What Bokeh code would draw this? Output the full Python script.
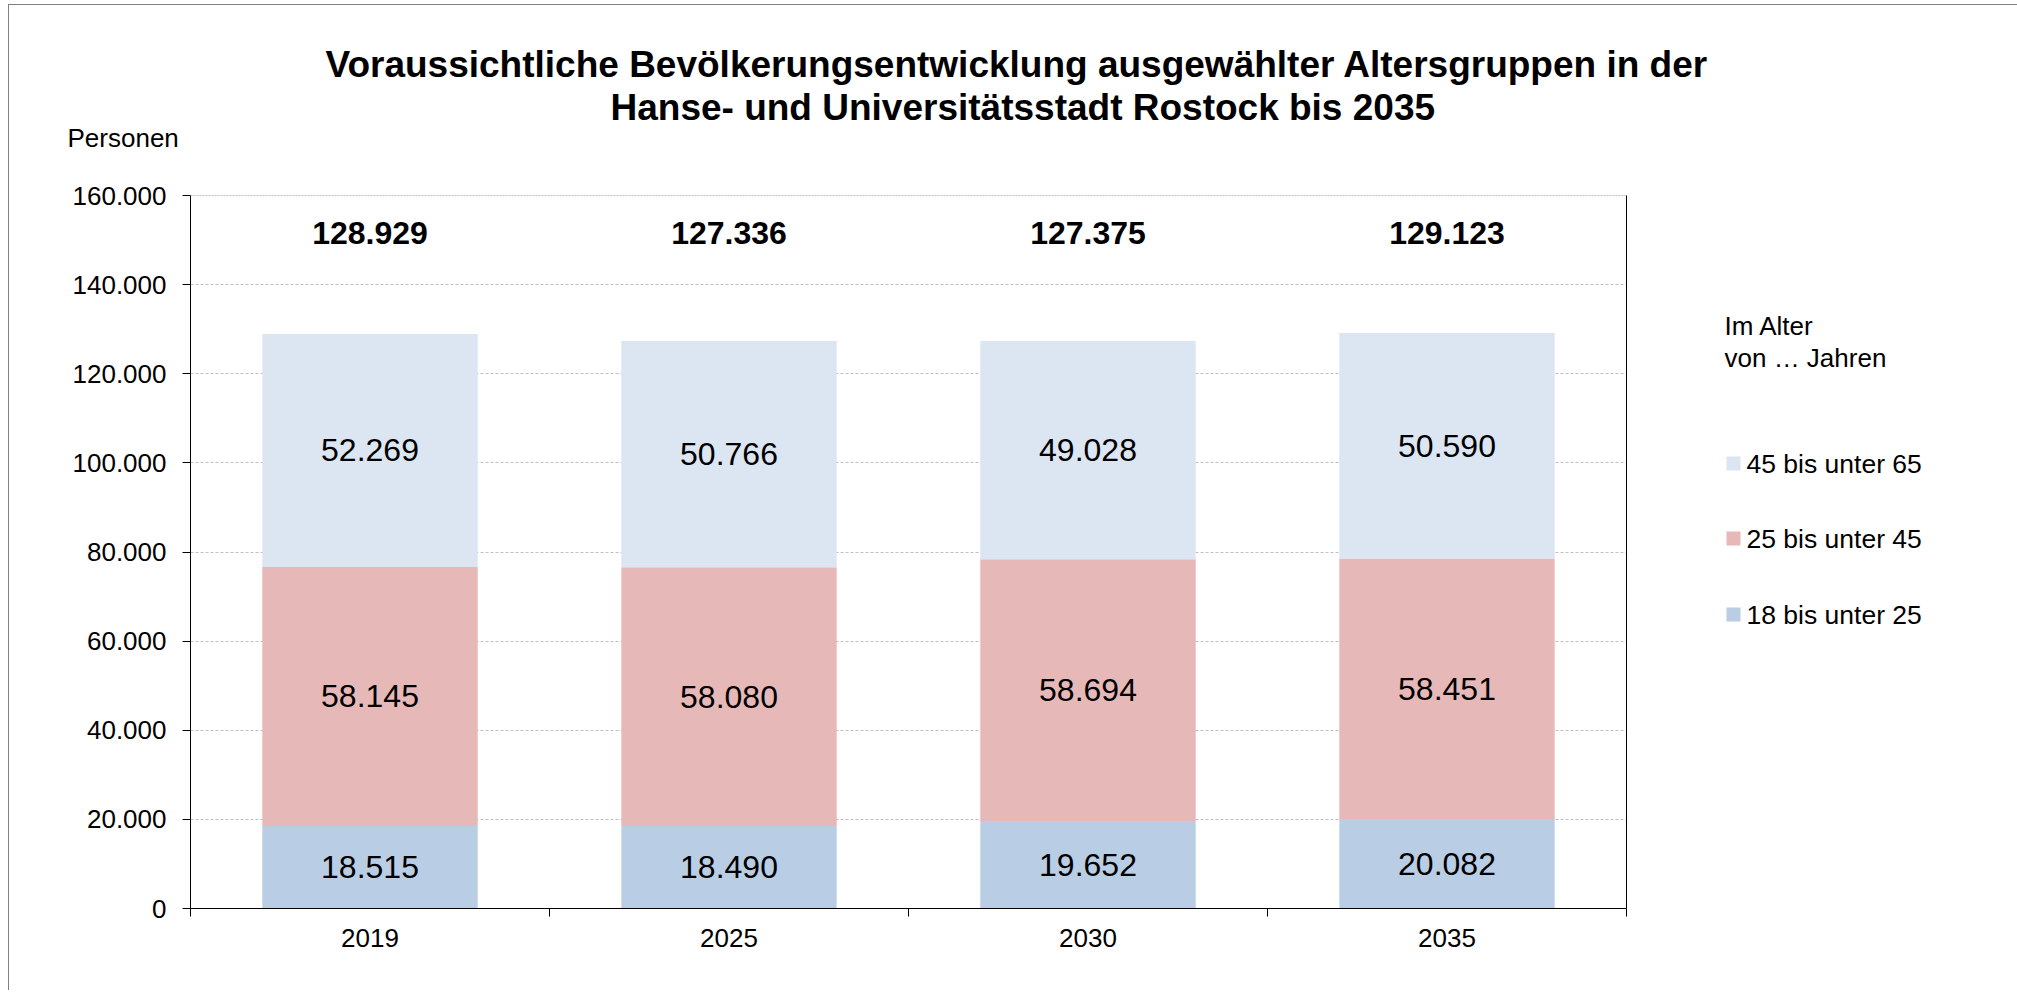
from bokeh.plotting import figure
from bokeh.layouts import column, row
from bokeh.models import ColumnDataSource, Range1d, LinearAxis, FixedTicker, Span
from bokeh.core.properties import value
from bokeh.embed import file_html
from bokeh.resources import INLINE

# ---------------- data ----------------
years = ["2019", "2025", "2030", "2035"]
groups = ["18 bis unter 25", "25 bis unter 45", "45 bis unter 65"]
age_18_25 = [18515, 18490, 19652, 20082]
age_25_45 = [58145, 58080, 58694, 58451]
age_45_65 = [52269, 50766, 49028, 50590]
totals = [128929, 127336, 127375, 129123]
y_ticks = [0, 20000, 40000, 60000, 80000, 100000, 120000, 140000, 160000]
colors = ["#B9CDE5", "#E6B9B8", "#DCE6F2"]

title_1 = "Voraussichtliche Bevölkerungsentwicklung ausgewählter Altersgruppen in der"
title_2 = "Hanse- und Universitätsstadt Rostock bis 2035"
y_title = "Personen"
legend_title = ["Im Alter", "von … Jahren"]

FONT = "Liberation Sans"


def de(n):
    return f"{n:,}".replace(",", ".")


def pixel_figure(w, h, top=0, bottom=0):
    """Figure whose frame maps 1 data unit to 1 pixel (y pointing downwards)."""
    fh = h - top - bottom
    fig = figure(title=None, width=w, height=h,
                 x_range=Range1d(0, w), y_range=Range1d(fh, 0),
                 output_backend="svg", toolbar_location=None, x_axis_location=None,
                 y_axis_location=None, min_border=0, min_border_left=0, min_border_right=0,
                 min_border_top=top, min_border_bottom=bottom)
    fig.outline_line_color = None
    fig.xgrid.visible = False
    fig.ygrid.visible = False
    fig.background_fill_color = "white"
    fig.border_fill_color = "white"
    return fig


TOTAL_W = 2008

# ---------------- header (titles) ----------------
HH = 150
head = pixel_figure(TOTAL_W, HH)
head.text(x=[316, 601], y=[59, 102], text=[title_1, title_2], text_align="left",
          text_baseline="alphabetic", text_font=value(FONT), text_font_size="37px",
          text_font_style="bold", text_color="black")
head.text(x=[58], y=[132], text=[y_title], text_align="left", text_baseline="alphabetic",
          text_font=value(FONT), text_font_size="26px", text_color="black")

# ---------------- main chart ----------------
centers = [i + 0.5 for i in range(len(years))]
bounds = list(range(len(years) + 1))

CW, CH = 1639, 835
TOP, BOT = 40, 82
p = figure(title=None, width=CW, height=CH,
           x_range=Range1d(0, len(years)),
           y_range=Range1d(0, y_ticks[-1]),
           output_backend="svg", toolbar_location=None, x_axis_location="below",
           min_border_left=181, min_border_right=22, min_border_top=TOP, min_border_bottom=BOT)
p.outline_line_color = None
p.background_fill_color = "white"
p.border_fill_color = "white"

xaxis = p.xaxis[0]
xaxis.ticker = FixedTicker(ticks=centers, minor_ticks=bounds)
xaxis.major_label_overrides = {c: y for c, y in zip(centers, years)}
xaxis.axis_line_color = "black"
xaxis.major_tick_line_color = None
xaxis.minor_tick_line_color = "black"
xaxis.minor_tick_out = 8
xaxis.minor_tick_in = 0
xaxis.major_label_standoff = 12
xaxis.major_label_text_font = FONT
xaxis.major_label_text_font_size = "26px"
xaxis.major_label_text_color = "black"

p.yaxis.ticker = FixedTicker(ticks=y_ticks)
p.yaxis.major_label_overrides = {t: de(t) for t in y_ticks}
p.yaxis.axis_line_color = "black"
p.yaxis.major_tick_line_color = "black"
p.yaxis.major_tick_out = 8
p.yaxis.major_tick_in = 0
p.yaxis.minor_tick_line_color = None
p.yaxis.major_label_standoff = 16
p.yaxis.major_label_text_font = FONT
p.yaxis.major_label_text_font_size = "26px"
p.yaxis.major_label_text_color = "black"

raxis = LinearAxis(ticker=FixedTicker(ticks=[]))
raxis.axis_line_color = "black"
raxis.major_tick_line_color = None
raxis.minor_tick_line_color = None
raxis.major_label_text_font_size = "0px"
raxis.major_label_standoff = 0
p.add_layout(raxis, "right")

p.xgrid.visible = False
p.ygrid.ticker = FixedTicker(ticks=y_ticks)
p.ygrid.grid_line_color = "#BFBFBF"
p.ygrid.grid_line_dash = "3 2"

p.add_layout(Span(location=y_ticks[-1], dimension="width", line_color="#808080",
                  line_dash="2 1", line_width=1))

src = ColumnDataSource(dict(x=centers, a=age_18_25, b=age_25_45, c=age_45_65))
rs = p.vbar_stack(["a", "b", "c"], x="x", width=0.6, color=colors, source=src,
                  line_color=None)

lx, ly, lt = [], [], []
for i, cx in enumerate(centers):
    a, b, c = age_18_25[i], age_25_45[i], age_45_65[i]
    for base, v in ((0, a), (a, b), (a + b, c)):
        lx.append(cx)
        ly.append(base + v / 2)
        lt.append(de(v))
p.text(x=lx, y=ly, text=lt, text_align="center", text_baseline="middle",
       text_font=value(FONT), text_font_size="32px", text_color="black")

p.text(x=centers, y=[151500] * len(years), text=[de(t) for t in totals],
       text_align="center", text_baseline="middle", text_font=value(FONT),
       text_font_size="32px", text_font_style="bold", text_color="black")

# ---------------- legend panel (frame aligned with the chart frame) ----------------
LW = TOTAL_W - CW
leg = pixel_figure(LW, CH, top=TOP, bottom=BOT)
leg.text(x=[76, 76], y=[130, 162], text=legend_title, text_align="left",
         text_baseline="alphabetic", text_font=value(FONT), text_font_size="26px",
         text_color="black")
order = [2, 1, 0]                       # top entry first
item_y = [268, 343, 419]                # legend row positions (layout, px below frame top)
leg.rect(x=[85] * 3, y=item_y, width=14, height=14,
         fill_color=[colors[k] for k in order], line_color=None)
leg.text(x=[98] * 3, y=item_y, text=[groups[k] for k in order], text_align="left",
         text_baseline="middle", text_font=value(FONT), text_font_size="26.5px",
         text_color="black")

layout = column(head, row(p, leg, spacing=0), spacing=0)
layout.styles = {"margin-left": "8px", "margin-top": "4px",
                 "border-left": "1px solid #808080", "border-top": "1px solid #808080"}

open("out.html", "w").write(file_html(layout, INLINE))
